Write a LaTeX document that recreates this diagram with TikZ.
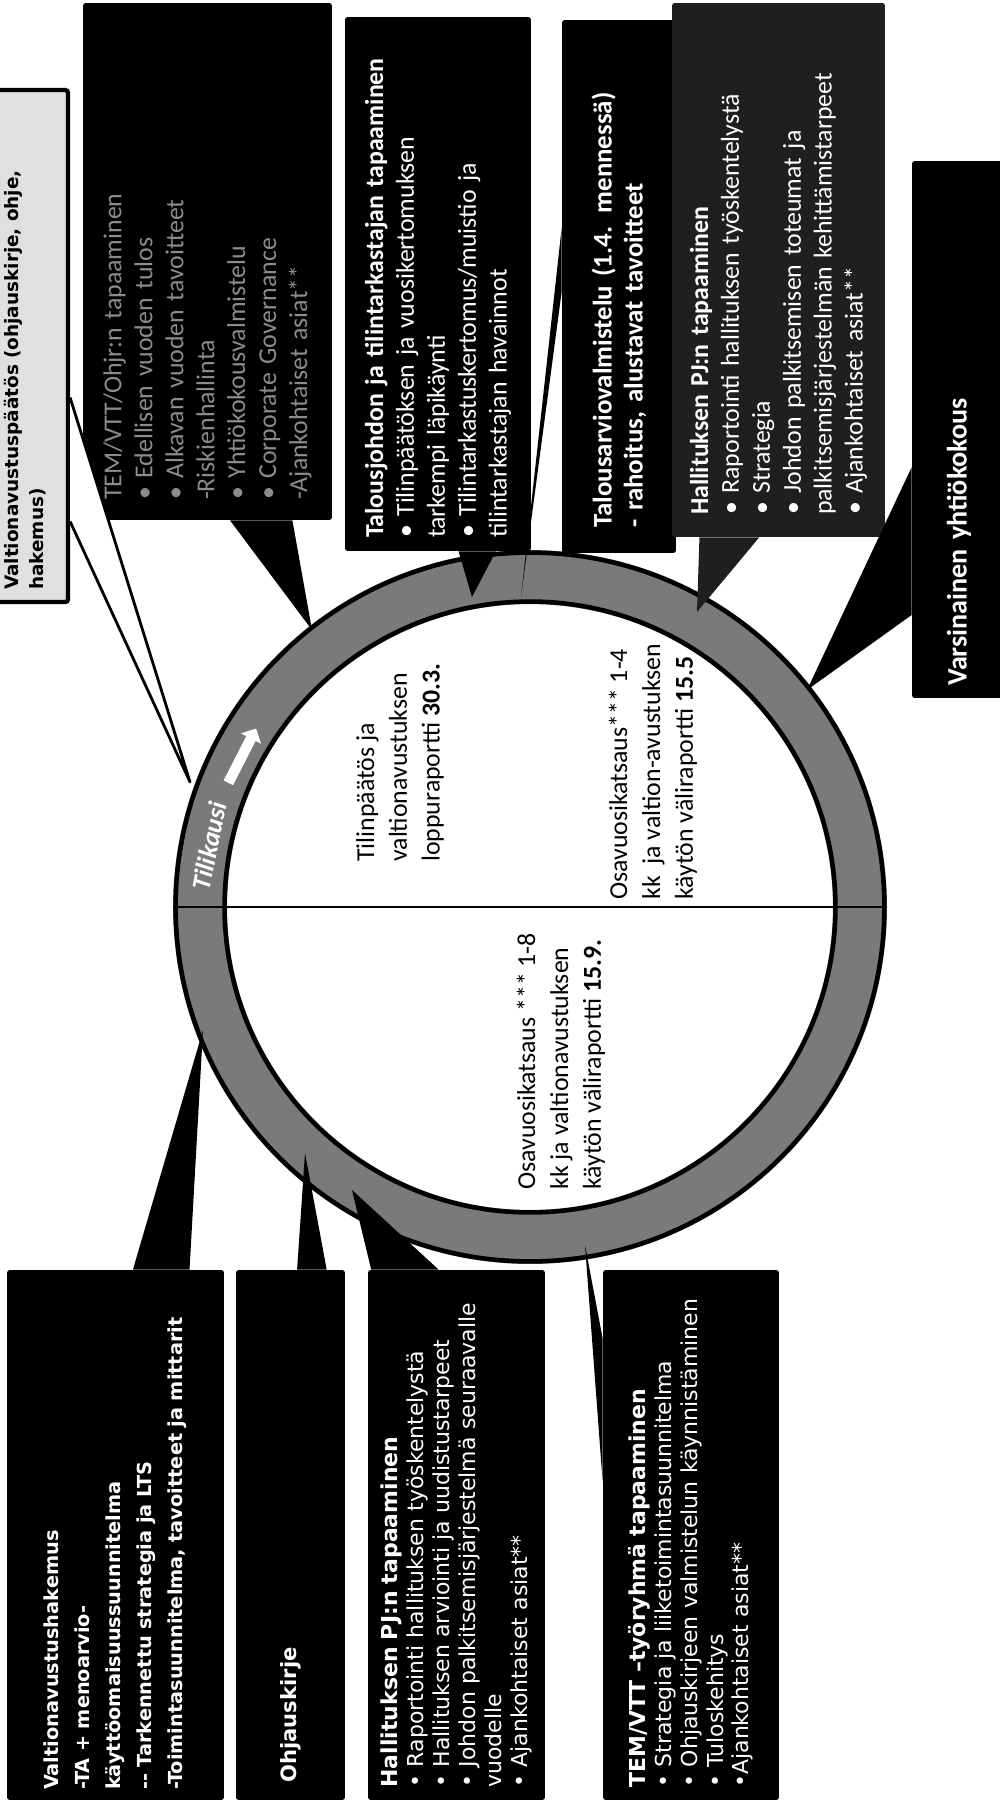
\documentclass[tikz,border=0pt]{standalone}
\usepackage{fontspec}
\setmainfont{Carlito}
\newfontfamily\dejavu{DejaVu Sans}
\usetikzlibrary{calc}
\usetikzlibrary{shapes.arrows}
\tikzset{
    boxk/.style = {rotate=90, fill=black, text=white, rounded corners=1.5pt, align=left, inner ysep=0pt, font=\fontsize{14.7}{17.6}\selectfont},
    boxv/.style = {boxk, font=\dejavu\fontsize{12.5}{14.7}\selectfont},
    boxl/.style = {boxk, fill=black!12, draw=black, line width=2.4pt, text=black, font=\dejavu\bfseries\fontsize{10.5}{14.7}\selectfont},
    ringtxt/.style = {rotate=90, align=left, inner sep=0pt, font=\fontsize{14.7}{18.7}\selectfont},
    tipk/.style = {fill=black},
    tipd/.style = {fill=black!88},
    tipl/.style = {fill=white, draw=black, line width=1.6pt, line join=round},
}

\begin{document}
\begin{tikzpicture}[x=0.02cm, y=-0.02cm]
\useasboundingbox (0,0) rectangle (1000,1809);
\fill[white] (0,0) rectangle (1000,1809);
\clip (0,0) rectangle (1000,1809);

% reports inside the circle
\node[ringtxt, anchor=west] (lopp) at (400,862) {Tilinpäätös ja\\valtionavustuksen\\loppuraportti \textbf{30.3.}};
\node[ringtxt, anchor=west] (osa8) at (561,1190) {Osavuosikatsaus *** 1-8\\kk ja valtionavustuksen\\käytön väliraportti \textbf{15.9.}};

% the ring
\coordinate (c) at (530,907);
\fill[black!52, even odd rule] (c) circle[radius=7.14cm] (c) circle[radius=6.06cm];
\node[ringtxt, anchor=west] (osa4) at (653,900) {Osavuosikatsaus*** 1-4\\kk\ \ ja valtion-avustuksen\\käytön väliraportti \textbf{15.5}};
\draw[line width=2.6pt] (c) circle[radius=7.09cm] (c) circle[radius=6.11cm];
\draw[line width=1pt] ($(c)+(-357,0)$) -- ($(c)+(357,0)$);
\node[rotate=78.5, text=white, inner sep=0pt, font=\bfseries\itshape\fontsize{15}{15}\selectfont] (tk) at (209,846) {Tilikausi};
\node[single arrow, fill=white, rotate=62.9, minimum height=1.22cm, minimum width=0pt, single arrow head extend=3.4pt, inner sep=2.8pt] (tkarrow) at (241,758) {};

% callouts above
\node[boxl, minimum height=1.72cm, text width=9.76cm, inner xsep=0.24cm] (vpaatos) at (25,346) {Valtionavustuspäätös (ohjauskirje, ohje,\\hakemus)};
\node[boxk, text=black!45, minimum height=4.98cm, text width=9.54cm, inner xsep=0.4cm] (temvtt) at (207.5,261.5) {TEM/VTT/Ohjr:n tapaaminen\\• Edellisen vuoden tulos\\• Alkavan vuoden tavoitteet\\-Riskienhallinta\\• Yhtiökokousvalmistelu\\• Corporate Governance\\-Ajankohtaiset asiat**};
\node[boxk, minimum height=3.72cm, text width=10.16cm, inner xsep=0.26cm] (taloush) at (438,284) {\textbf{Talousjohdon ja tilintarkastajan tapaaminen}\\• Tilinpäätöksen ja vuosikertomuksen\\tarkempi läpikäynti\\• Tilintarkastuskertomus/muistio ja\\tilintarkastajan havainnot};
\node[boxk, minimum height=2.28cm, text width=9.66cm, inner xsep=0.5cm, font=\bfseries\fontsize{15.3}{17.6}\selectfont] (tarvio) at (619,286.5) {Talousarviovalmistelu (1.4. mennessä)\\- rahoitus, alustavat tavoitteet};
\node[boxk, fill=black!88, minimum height=4.26cm, text width=9.8cm, inner xsep=0.44cm] (hpj1) at (778.5,270) {\textbf{Hallituksen PJ:n tapaaminen}\\• Raportointi hallituksen työskentelystä\\• Strategia\\• Johdon palkitsemisen toteumat ja\\palkitsemisjärjestelmän kehittämistarpeet\\• Ajankohtaiset asiat**};
\node[boxk, minimum height=1.88cm, text width=10.26cm, inner xsep=0.24cm, font=\bfseries\fontsize{16}{17.6}\selectfont] (yhtiok) at (959,429.5) {Varsinainen yhtiökokous};

% callouts below
\node[boxv, font=\dejavu\bfseries\fontsize{11}{17.6}\selectfont, minimum height=4.34cm, text width=10.2cm, inner xsep=0.2cm] (vahak) at (115.5,1535) {Valtionavustushakemus\\-TA + menoarvio-\\käyttöomaisuussuunnitelma\\-{}- Tarkennettu strategia ja LTS\\-Toimintasuunnitelma, tavoitteet ja mittarit};
\node[boxv, font=\dejavu\bfseries\fontsize{12}{14.7}\selectfont, minimum height=2.18cm, text width=9.9cm, inner xsep=0.35cm] (ohjk) at (290.5,1535) {Ohjauskirje};
\node[boxv, minimum height=3.54cm, text width=10.1cm, inner xsep=0.25cm] (hpj2) at (456.5,1535) {\textbf{Hallituksen PJ:n tapaaminen}\\• Raportointi hallituksen työskentelystä\\• Hallituksen arviointi ja uudistustarpeet\\• Johdon palkitsemisjärjestelmä seuraavalle\\vuodelle\\• Ajankohtaiset asiat**};
\node[boxv, minimum height=3.52cm, text width=10.1cm, inner xsep=0.25cm] (temtr) at (691,1535) {\textbf{TEM/VTT –työryhmä tapaaminen}\\• Strategia ja liiketoimintasuunnitelma\\• Ohjauskirjeen valmistelun käynnistäminen\\• Tuloskehitys\\•Ajankohtaiset asiat**};

% pointer tips on the ring
\coordinate (pl0) at (190,782);
\coordinate (pd0) at (312,630);
\coordinate (pd1) at (472,597);
\coordinate (pd2) at (521,597);
\coordinate (pd3) at (697,612);
\coordinate (pd4) at (807,690);
\coordinate (pb1) at (203,1030);
\coordinate (pb2) at (305,1153);
\coordinate (pb3) at (352,1190);
\coordinate (pb4) at (585,1245);

% pointers
\draw[tipl] ($(vpaatos.south west)!0.16!(vpaatos.south east)$) -- (pl0) -- ($(vpaatos.south west)!0.40!(vpaatos.south east)$);
\fill[tipk] ($(temvtt.north west)!0.59!(temvtt.south west)$) -- (pd0) -- ($(temvtt.north west)!0.84!(temvtt.south west)$) -- cycle;
\fill[tipk] ($(taloush.north west)!0.61!(taloush.south west)$) -- (pd1) -- ($(taloush.north west)!0.81!(taloush.south west)$) -- cycle;
\fill[tipk] ($(tarvio.north west)!0.49!(tarvio.north east)$) -- (pd2) -- ($(tarvio.north west)!0.61!(tarvio.north east)$) -- cycle;
\fill[tipd] ($(hpj1.north west)!0.13!(hpj1.south west)$) -- (pd3) -- ($(hpj1.north west)!0.41!(hpj1.south west)$) -- cycle;
\fill[tipk] ($(yhtiok.north west)!0.155!(yhtiok.north east)$) -- (pd4) -- ($(yhtiok.north west)!0.43!(yhtiok.north east)$) -- cycle;
\fill[tipk] ($(vahak.north east)!0.58!(vahak.south east)$) -- (pb1) -- ($(vahak.north east)!0.84!(vahak.south east)$) -- cycle;
\fill[tipk] ($(ohjk.north east)!0.56!(ohjk.south east)$) -- (pb2) -- ($(ohjk.north east)!0.83!(ohjk.south east)$) -- cycle;
\fill[tipk] ($(hpj2.north east)!0.02!(hpj2.south east)$) -- (pb3) -- ($(hpj2.north east)!0.40!(hpj2.south east)$) -- cycle;
\fill[tipk] ($(temtr.north east)!0.13!(temtr.north west)$) -- (pb4) -- ($(temtr.north east)!0.40!(temtr.north west)$) -- cycle;

\end{tikzpicture}
\end{document}
